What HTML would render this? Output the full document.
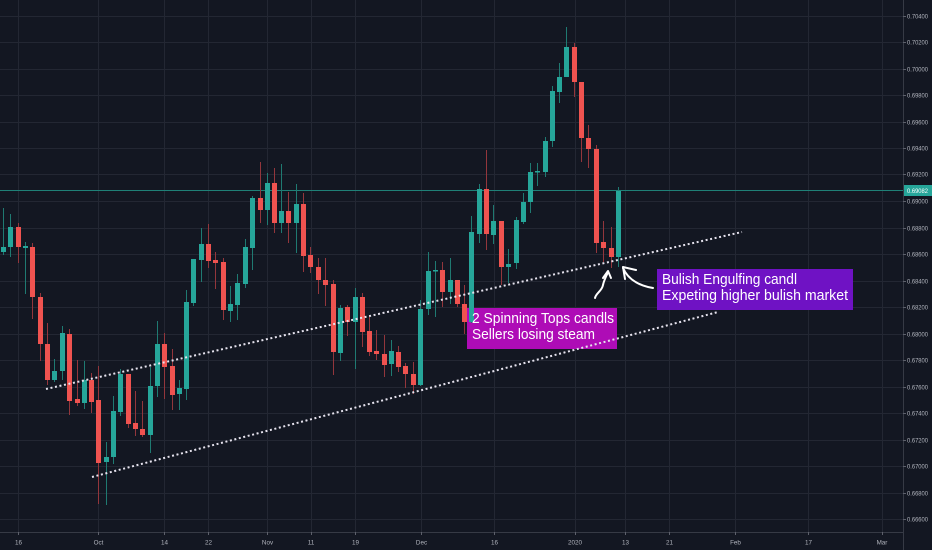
<!DOCTYPE html>
<html><head><meta charset="utf-8"><style>
html,body{margin:0;padding:0;background:#131722;}
svg{display:block;}
.ax{font-family:"Liberation Sans",sans-serif;fill:#b2b5be;}
.an{font-family:"Liberation Sans",sans-serif;fill:#ffffff;font-size:15px;}
</style></head><body>
<svg width="932" height="550" viewBox="0 0 932 550" xmlns="http://www.w3.org/2000/svg">
<rect width="932" height="550" fill="#131722"/>
<!-- grid -->
<g stroke="#232733" stroke-width="1">
<path d="M0 16.5H903M0 42.5H903M0 69.5H903M0 95.5H903M0 122.5H903M0 148.5H903M0 174.5H903M0 201.5H903M0 228.5H903M0 254.5H903M0 281.5H903M0 307.5H903M0 334.5H903M0 360.5H903M0 387.5H903M0 413.5H903M0 440.5H903M0 466.5H903M0 493.5H903M0 519.5H903"/>
<path d="M18.5 0V532M98.5 0V532M164.5 0V532M208.5 0V532M267.5 0V532M311.5 0V532M355.5 0V532M421.5 0V532M494.5 0V532M575.5 0V532M625.5 0V532M669.5 0V532M735.5 0V532M808.5 0V532M882.5 0V532"/>
</g>
<!-- last price line -->
<path d="M0 190.5H903" stroke="#1f8077" stroke-width="1"/>
<!-- annotation boxes -->
<rect x="467" y="308" width="150" height="41" fill="#ae0cb6"/>
<rect x="657" y="269" width="196" height="41" fill="#6f12c4"/>
<!-- wicks -->
<path stroke="#1f7a72" stroke-width="1" fill="none" d="M3.5 208V255M10.5 214V257M25.5 242V294M54.5 359V382M62.5 326V380M84.5 361V409M106.5 442V505M113.5 396V464M120.5 369V416M150.5 367V453M157.5 321V397M179.5 380V410M186.5 290V400M193.5 259V306M201.5 228V282M230.5 286V322M237.5 274V320M245.5 239V288M252.5 196V270M267.5 173V225M281.5 164V233M296.5 184V253M340.5 305V361M355.5 288V369M391.5 340V376M420.5 300V386M428.5 252V315M435.5 261V317M450.5 258V304M471.5 216V323M479.5 184V243M493.5 205V244M508.5 249V283M516.5 217V269M523.5 193V224M530.5 163V213M537.5 163V186M545.5 137V177M552.5 86V147M559.5 63V103M566.5 27V77M618.5 187V267"/>
<path stroke="#93363c" stroke-width="1" fill="none" d="M18.5 223V263M32.5 243V319M40.5 293V361M47.5 323V385M69.5 329V415M77.5 360V406M91.5 373V413M98.5 366V504M128.5 374V428M135.5 391V436M142.5 401V437M164.5 333V399M172.5 349V410M208.5 224V268M215.5 252V289M223.5 258V320M260.5 162V223M274.5 168V233M288.5 192V243M303.5 193V272M310.5 247V273M318.5 258V294M325.5 258V306M333.5 280V375M347.5 305V336M362.5 293V347M369.5 317V356M376.5 330V360M384.5 335V377M398.5 346V372M405.5 363V388M413.5 362V394M442.5 262V307M457.5 280V307M464.5 285V334M486.5 150V250M501.5 221V285M574.5 43V97M581.5 82V162M588.5 125V168M596.5 145V253M603.5 221V262M611.5 227V268"/>
<!-- green bodies -->
<g fill="#26a69a">
<rect x="1" y="247" width="5" height="5"/>
<rect x="8" y="227" width="5" height="20"/>
<rect x="23" y="246" width="5" height="2"/>
<rect x="52" y="371" width="5" height="9"/>
<rect x="60" y="333" width="5" height="38"/>
<rect x="82" y="380" width="5" height="23"/>
<rect x="104" y="457" width="5" height="5"/>
<rect x="111" y="411" width="5" height="46"/>
<rect x="118" y="374" width="5" height="38"/>
<rect x="148" y="386" width="5" height="49"/>
<rect x="155" y="344" width="5" height="42"/>
<rect x="177" y="388" width="5" height="6"/>
<rect x="184" y="302" width="5" height="87"/>
<rect x="191" y="259" width="5" height="44"/>
<rect x="199" y="244" width="5" height="16"/>
<rect x="228" y="304" width="5" height="7"/>
<rect x="235" y="283" width="5" height="22"/>
<rect x="243" y="247" width="5" height="37"/>
<rect x="250" y="198" width="5" height="50"/>
<rect x="265" y="183" width="5" height="27"/>
<rect x="279" y="211" width="5" height="12"/>
<rect x="294" y="204" width="5" height="19"/>
<rect x="338" y="308" width="5" height="45"/>
<rect x="353" y="297" width="5" height="25"/>
<rect x="389" y="351" width="5" height="13"/>
<rect x="418" y="309" width="5" height="76"/>
<rect x="426" y="271" width="5" height="38"/>
<rect x="433" y="270" width="5" height="1.5"/>
<rect x="448" y="280" width="5" height="12"/>
<rect x="469" y="232" width="5" height="90"/>
<rect x="477" y="189" width="5" height="45"/>
<rect x="491" y="221" width="5" height="14"/>
<rect x="506" y="264" width="5" height="3"/>
<rect x="514" y="220" width="5" height="43"/>
<rect x="521" y="202" width="5" height="20"/>
<rect x="528" y="172" width="5" height="30"/>
<rect x="535" y="171" width="5" height="1.5"/>
<rect x="543" y="141" width="5" height="31"/>
<rect x="550" y="91" width="5" height="50"/>
<rect x="557" y="77" width="5" height="15"/>
<rect x="564" y="47" width="5" height="30"/>
<rect x="616" y="191" width="5" height="66"/>
</g>
<!-- red bodies -->
<g fill="#ef5350">
<rect x="16" y="227" width="5" height="20"/>
<rect x="30" y="247" width="5" height="50"/>
<rect x="38" y="297" width="5" height="47"/>
<rect x="45" y="344" width="5" height="36"/>
<rect x="67" y="334" width="5" height="67"/>
<rect x="75" y="399" width="5" height="4"/>
<rect x="89" y="380" width="5" height="22"/>
<rect x="96" y="400" width="5" height="63"/>
<rect x="126" y="374" width="5" height="50"/>
<rect x="133" y="423" width="5" height="6"/>
<rect x="140" y="429" width="5" height="6"/>
<rect x="162" y="344" width="5" height="23"/>
<rect x="170" y="366" width="5" height="29"/>
<rect x="206" y="244" width="5" height="17"/>
<rect x="213" y="260" width="5" height="3"/>
<rect x="221" y="262" width="5" height="48"/>
<rect x="258" y="198" width="5" height="12"/>
<rect x="272" y="183" width="5" height="40"/>
<rect x="286" y="211" width="5" height="12"/>
<rect x="301" y="204" width="5" height="52"/>
<rect x="308" y="255" width="5" height="12"/>
<rect x="316" y="267" width="5" height="13"/>
<rect x="323" y="280" width="5" height="5"/>
<rect x="331" y="284" width="5" height="68"/>
<rect x="345" y="307" width="5" height="15"/>
<rect x="360" y="297" width="5" height="35"/>
<rect x="367" y="331" width="5" height="21"/>
<rect x="374" y="351" width="5" height="3"/>
<rect x="382" y="354" width="5" height="11"/>
<rect x="396" y="352" width="5" height="15"/>
<rect x="403" y="366" width="5" height="8"/>
<rect x="411" y="374" width="5" height="11"/>
<rect x="440" y="270" width="5" height="22"/>
<rect x="455" y="280" width="5" height="24"/>
<rect x="462" y="304" width="5" height="18"/>
<rect x="484" y="189" width="5" height="45"/>
<rect x="499" y="221" width="5" height="46"/>
<rect x="572" y="47" width="5" height="35"/>
<rect x="579" y="82" width="5" height="56"/>
<rect x="586" y="138" width="5" height="11"/>
<rect x="594" y="149" width="5" height="94"/>
<rect x="601" y="242" width="5" height="6"/>
<rect x="609" y="248" width="5" height="9"/>
</g>
<!-- dotted trend lines -->
<g stroke="#e6e3ee" stroke-width="2" stroke-dasharray="2 2.6" fill="none">
<line x1="46" y1="389" x2="742" y2="232"/>
<line x1="92" y1="477" x2="718" y2="312"/>
</g>
<!-- hand-drawn arrows -->
<g stroke="#ffffff" stroke-width="2" fill="none" stroke-linecap="round" stroke-linejoin="round">
<path d="M595 298 C596 293 602 291 603 285 C604 280 606 277 608 272"/>
<path d="M603 278 L608 271 L611 278"/>
<path d="M623 268 Q630 284 653 288"/>
<path d="M625 279 L623 267 L636 270"/>
</g>
<!-- annotation text -->
<text class="an" x="472" y="323" textLength="142" lengthAdjust="spacingAndGlyphs">2 Spinning Tops candls</text>
<text class="an" x="472" y="339" textLength="123" lengthAdjust="spacingAndGlyphs">Sellers losing steam</text>
<text class="an" x="662" y="284" textLength="135" lengthAdjust="spacingAndGlyphs">Bulish Engulfing candl</text>
<text class="an" x="662" y="300" textLength="186" lengthAdjust="spacingAndGlyphs">Expeting higher bulish market</text>
<!-- axes -->
<path d="M903.5 0V550" stroke="#363a45" stroke-width="1"/>
<path d="M0 532.5H903" stroke="#363a45" stroke-width="1"/>
<g stroke="#5d606b" stroke-width="1">
<path d="M903 16.5h3M903 42.5h3M903 69.5h3M903 95.5h3M903 122.5h3M903 148.5h3M903 174.5h3M903 201.5h3M903 228.5h3M903 254.5h3M903 281.5h3M903 307.5h3M903 334.5h3M903 360.5h3M903 387.5h3M903 413.5h3M903 440.5h3M903 466.5h3M903 493.5h3M903 519.5h3"/>
<path d="M18.5 532v3M98.5 532v3M164.5 532v3M208.5 532v3M267.5 532v3M311.5 532v3M355.5 532v3M421.5 532v3M494.5 532v3M575.5 532v3M625.5 532v3M669.5 532v3M735.5 532v3M808.5 532v3M882.5 532v3"/>
</g>
<g class="ax" font-size="6.3">
<text x="907" y="18.7" textLength="21" lengthAdjust="spacingAndGlyphs">0.70400</text>
<text x="907" y="44.7" textLength="21" lengthAdjust="spacingAndGlyphs">0.70200</text>
<text x="907" y="71.7" textLength="21" lengthAdjust="spacingAndGlyphs">0.70000</text>
<text x="907" y="97.7" textLength="21" lengthAdjust="spacingAndGlyphs">0.69800</text>
<text x="907" y="124.7" textLength="21" lengthAdjust="spacingAndGlyphs">0.69600</text>
<text x="907" y="150.7" textLength="21" lengthAdjust="spacingAndGlyphs">0.69400</text>
<text x="907" y="176.7" textLength="21" lengthAdjust="spacingAndGlyphs">0.69200</text>
<text x="907" y="203.7" textLength="21" lengthAdjust="spacingAndGlyphs">0.69000</text>
<text x="907" y="230.7" textLength="21" lengthAdjust="spacingAndGlyphs">0.68800</text>
<text x="907" y="256.7" textLength="21" lengthAdjust="spacingAndGlyphs">0.68600</text>
<text x="907" y="283.7" textLength="21" lengthAdjust="spacingAndGlyphs">0.68400</text>
<text x="907" y="309.7" textLength="21" lengthAdjust="spacingAndGlyphs">0.68200</text>
<text x="907" y="336.7" textLength="21" lengthAdjust="spacingAndGlyphs">0.68000</text>
<text x="907" y="362.7" textLength="21" lengthAdjust="spacingAndGlyphs">0.67800</text>
<text x="907" y="389.7" textLength="21" lengthAdjust="spacingAndGlyphs">0.67600</text>
<text x="907" y="415.7" textLength="21" lengthAdjust="spacingAndGlyphs">0.67400</text>
<text x="907" y="442.7" textLength="21" lengthAdjust="spacingAndGlyphs">0.67200</text>
<text x="907" y="468.7" textLength="21" lengthAdjust="spacingAndGlyphs">0.67000</text>
<text x="907" y="495.7" textLength="21" lengthAdjust="spacingAndGlyphs">0.66800</text>
<text x="907" y="521.7" textLength="21" lengthAdjust="spacingAndGlyphs">0.66600</text>
</g>
<!-- last price label -->
<rect x="904" y="185" width="28" height="11" fill="#26a69a"/>
<text x="907" y="192.8" font-size="6.3" textLength="21" lengthAdjust="spacingAndGlyphs" style="font-family:'Liberation Sans',sans-serif;fill:#ffffff">0.69082</text>
<!-- date labels -->
<g class="ax" font-size="6.3" text-anchor="middle">
<text x="18.5" y="544.5">16</text>
<text x="98.5" y="544.5">Oct</text>
<text x="164.5" y="544.5">14</text>
<text x="208.5" y="544.5">22</text>
<text x="267.5" y="544.5">Nov</text>
<text x="311" y="544.5">11</text>
<text x="355.5" y="544.5">19</text>
<text x="421.5" y="544.5">Dec</text>
<text x="494.5" y="544.5">16</text>
<text x="575" y="544.5">2020</text>
<text x="625.5" y="544.5">13</text>
<text x="669.5" y="544.5">21</text>
<text x="735.5" y="544.5">Feb</text>
<text x="808.5" y="544.5">17</text>
<text x="882" y="544.5">Mar</text>
</g>
</svg>
</body></html>
